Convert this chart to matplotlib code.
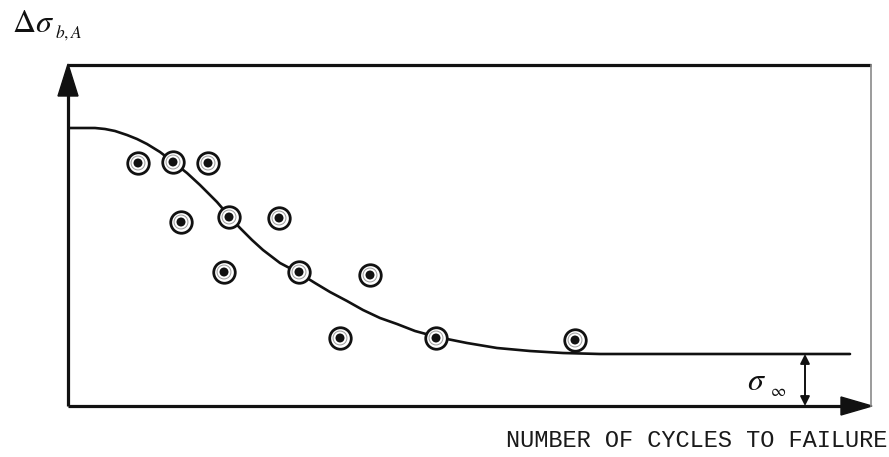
import matplotlib
matplotlib.use("Agg")
import matplotlib.pyplot as plt
from matplotlib.patches import Polygon

plt.rcParams["mathtext.fontset"] = "stix"

# Test results: fatigue life (scaled log cycles) vs. stress amplitude (scaled)
test_cycles = [0.70, 1.05, 1.40, 1.13, 1.61, 2.11, 1.56, 2.31, 3.02, 2.72, 3.68, 5.07]
test_stress = [2.43, 2.44, 2.43, 1.84, 1.89, 1.88, 1.34, 1.34, 1.31, 0.68, 0.68, 0.66]

# Fitted S-N curve, read point by point
curve_cycles = [0.00, 0.27, 0.37, 0.47, 0.59, 0.69, 0.79, 0.92, 1.05, 1.19, 1.32, 1.49,
                1.61, 1.72, 1.84, 1.95, 2.12, 2.31, 2.47, 2.62, 2.79, 2.95, 3.12, 3.29,
                3.47, 3.69, 3.99, 4.29, 4.62, 4.95, 5.32, 7.82]
curve_stress = [2.78, 2.78, 2.77, 2.75, 2.71, 2.67, 2.62, 2.54, 2.44, 2.33, 2.21, 2.04,
                1.90, 1.78, 1.66, 1.56, 1.43, 1.33, 1.23, 1.14, 1.05, 0.96, 0.88, 0.82,
                0.75, 0.69, 0.63, 0.58, 0.55, 0.53, 0.52, 0.52]

endurance_limit = 0.52

x_label = "NUMBER OF CYCLES TO FAILURE"

W, H = 889, 457
fig = plt.figure(figsize=(W / 100, H / 100), dpi=100)
fig.patch.set_facecolor("white")

left, right, top, bottom = 68, 871, 65, 406
ax = fig.add_axes([left / W, (H - bottom) / H, (right - left) / W, (bottom - top) / H])
ax.set_xlim(0, (right - left) / 100)
ax.set_ylim(0, (bottom - top) / 100)
ax.axis("off")

xmax = (right - left) / 100
ymax = (bottom - top) / 100
k = "#111111"

# frame: thick left/bottom/top, faint right edge
ax.plot([0, 0], [0, ymax - 0.05], color=k, lw=2.3, clip_on=False, solid_capstyle="butt")
ax.plot([0, xmax - 0.05], [0, 0], color=k, lw=2.3, clip_on=False, solid_capstyle="butt")
ax.plot([0, xmax], [ymax, ymax], color=k, lw=2.3, clip_on=False, solid_capstyle="butt")
ax.plot([xmax, xmax], [0, ymax], color="#8a8a8a", lw=1.2, clip_on=False)

# axis arrowheads
ax.add_patch(Polygon([(-0.10, ymax - 0.31), (0.10, ymax - 0.31), (0.0, ymax + 0.01)],
                     closed=True, color=k, clip_on=False))
ax.add_patch(Polygon([(xmax - 0.30, -0.09), (xmax - 0.30, 0.09), (xmax + 0.01, 0.0)],
                     closed=True, color=k, clip_on=False))

# fitted curve
ax.plot(curve_cycles, curve_stress, color=k, lw=1.9, solid_capstyle="round",
        solid_joinstyle="round", zorder=2)

# test points: ringed dots
ax.scatter(test_cycles, test_stress, s=240, facecolor="white", edgecolor=k,
           linewidths=2.0, zorder=3)
ax.scatter(test_cycles, test_stress, s=100, facecolor="none", edgecolor="#9a9a9a",
           linewidths=0.7, zorder=4)
ax.scatter(test_cycles, test_stress, s=42, facecolor=k, edgecolor="none", zorder=5)

# endurance limit dimension arrow
ax.annotate("", xy=(7.37, 0.0), xytext=(7.37, endurance_limit),
            arrowprops=dict(arrowstyle="<|-|>", color=k, lw=1.4,
                            mutation_scale=14, shrinkA=0, shrinkB=0),
            annotation_clip=False)
ax.text(6.79, 0.16, r"$\sigma$", fontsize=23, color=k, ha="left", va="baseline")
ax.text(7.02, 0.10, r"$\infty$", fontsize=12, color=k, ha="left", va="baseline")

# vertical axis label
fig.text(12 / W, 1 - 32 / H, r"$\Delta\sigma$", fontsize=23, color=k,
         ha="left", va="baseline")
fig.text(55 / W, 1 - 38 / H, r"$b,A$", fontsize=12.5, color=k,
         ha="left", va="baseline")
fig.text(887 / W, 1 - 447 / H, x_label, fontsize=17, color="#1a1a1a",
         family=["Liberation Mono", "DejaVu Sans Mono"], ha="right", va="baseline")

fig.savefig("out.png", dpi=100, facecolor="white")
